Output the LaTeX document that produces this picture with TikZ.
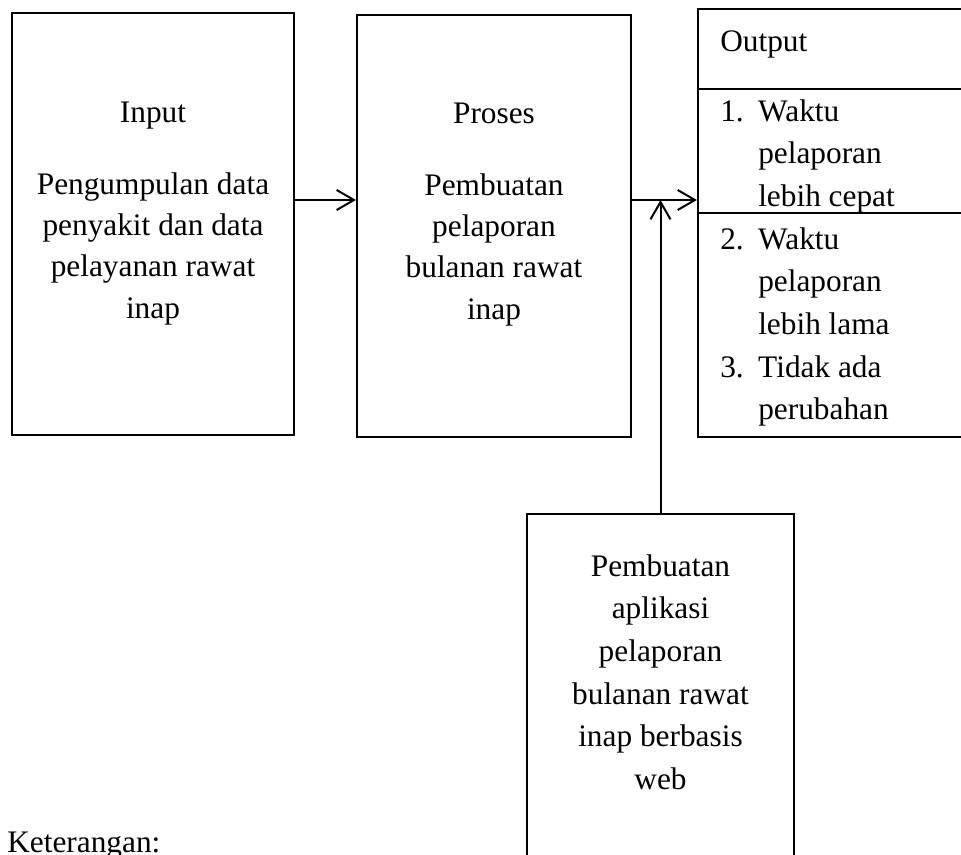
\documentclass[tikz,border=0pt]{standalone}
\usepackage{fontspec}
\setmainfont{Liberation Serif}
\usetikzlibrary{arrows.meta}
\newcommand{\itemno}[1]{\makebox[28.5pt][l]{#1}}
\begin{document}
\begin{tikzpicture}[x=0.75pt, y=-0.75pt]

	% Styles
	\tikzset{
		box/.style={
			rectangle, draw=black, line width=1.5pt,
			inner sep=0pt,
		},
		txt/.style={
			inner sep=0pt, align=center,
			font=\fontsize{23.5pt}{31pt}\selectfont,
		},
		arrow/.style={
			line width=1.5pt, -{Straight Barb[length=13pt,width=15pt]},
		}
	}

	\useasboundingbox (0,0) rectangle (961,855);

	% Input box (left)
	\node[box, minimum width=211.5pt, minimum height=316.5pt] (input) at (153,224) {};
	\node[txt, anchor=north] (inputtxt) at (153,102) {Input\\[22.5pt]Pengumpulan data\\penyakit dan data\\pelayanan rawat\\inap};

	% Proses box (middle)
	\node[box, minimum width=205.5pt, minimum height=316.5pt] (proses) at (494,226) {};
	\node[txt, anchor=north] (prosestxt) at (494,103) {Proses\\[22.5pt]Pembuatan\\pelaporan\\bulanan rawat\\inap};

	% Output boxes stacked on the right
	\node[box, minimum width=201pt, minimum height=60pt] (outhead) at (832,49) {};
	\node[box, minimum width=201pt, minimum height=93pt] (outone) at (832,151) {};
	\node[box, minimum width=201pt, minimum height=168pt] (outtwo) at (832,325) {};
	\node[txt, align=left, anchor=north west] (headtxt) at (720,30) {Output};
	\node[txt, align=left, anchor=north west, font=\fontsize{23.5pt}{32pt}\selectfont] (onetxt) at (720,99) {\itemno{1.}Waktu\\\itemno{}pelaporan\\\itemno{}lebih cepat};
	\node[txt, align=left, anchor=north west, font=\fontsize{23.5pt}{32pt}\selectfont] (twotxt) at (720,227) {\itemno{2.}Waktu\\\itemno{}pelaporan\\\itemno{}lebih lama\\\itemno{3.}Tidak ada\\\itemno{}perubahan};

	% Web application box (bottom)
	\node[box, minimum width=200.25pt, minimum height=274.5pt] (web) at (660.5,697) {};
	\node[txt, anchor=north, font=\fontsize{23.5pt}{32pt}\selectfont] (webtxt) at (660.5,554) {Pembuatan\\aplikasi\\pelaporan\\bulanan rawat\\inap berbasis\\web};

	% Legend
	\node[txt, anchor=base west] (ket) at (7,852) {Keterangan:};

	% Arrows
	\coordinate (mid) at (0,200);
	\draw[arrow] (input.east |- mid) -- (proses.west |- mid);
	\draw[arrow] (proses.east |- mid) -- (outone.west |- mid);
	\draw[arrow] (web.north) -- (web.north |- mid);

\end{tikzpicture}
\end{document}
